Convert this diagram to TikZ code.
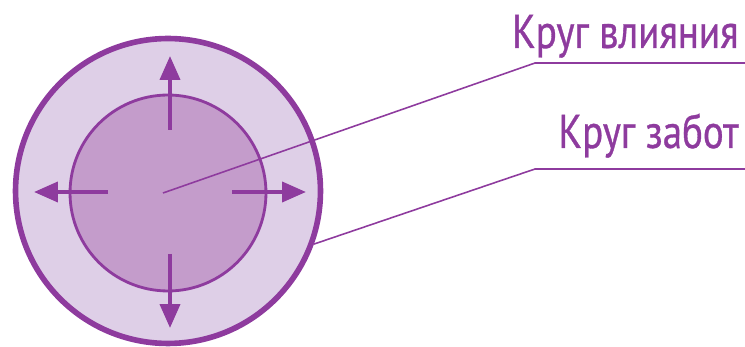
\documentclass[tikz,border=0pt]{standalone}
\usepackage{fontspec}
\setmainfont{PT Sans}[FakeStretch=0.82, FakeBold=0.7]
\usetikzlibrary{arrows.meta}
\definecolor{plum}{RGB}{142,59,158}
\definecolor{lightplum}{RGB}{222,207,231}
\definecolor{midplum}{RGB}{196,156,203}

\begin{document}
\begin{tikzpicture}[x=0.02cm, y=-0.02cm]
    \tikzset{
        ring/.style={draw=plum, circle, inner sep=0pt},
        spoke/.style={draw=plum, line width=2.2pt, -{Triangle[length=0.48cm, width=0.4cm]}},
        pointer/.style={draw=plum, line width=0.9pt},
        caption/.style={text=plum, font=\fontsize{27}{30}\selectfont, anchor=base east, inner sep=0pt}
    }
    \useasboundingbox (0,0) rectangle (745,347);

    \node[ring, line width=3.2pt, fill=lightplum, minimum size=6.1cm] (zabot) at (168,191) {};
    \node[ring, line width=1.6pt, fill=midplum, minimum size=3.92cm] (vliyanie) at (168,193) {};

    % arrows out of the inner circle
    \foreach \a in {0,90,180,270}
        \draw[spoke] (170,192) ++(\a:62) -- ++(\a:74);

    \node[caption] (vliyanietext) at (739,48) {Круг влияния};
    \node[caption] (zabottext) at (739,148) {Круг забот};

    \coordinate (vbend) at (535,63);
    \coordinate (vend) at (745,63);
    \coordinate (zbend) at (535,169);
    \coordinate (zend) at (745,169);

    \draw[pointer] (163,193) -- (vbend) -- (vend);
    \draw[pointer] (zabot.-20) -- (zbend) -- (zend);
\end{tikzpicture}
\end{document}
